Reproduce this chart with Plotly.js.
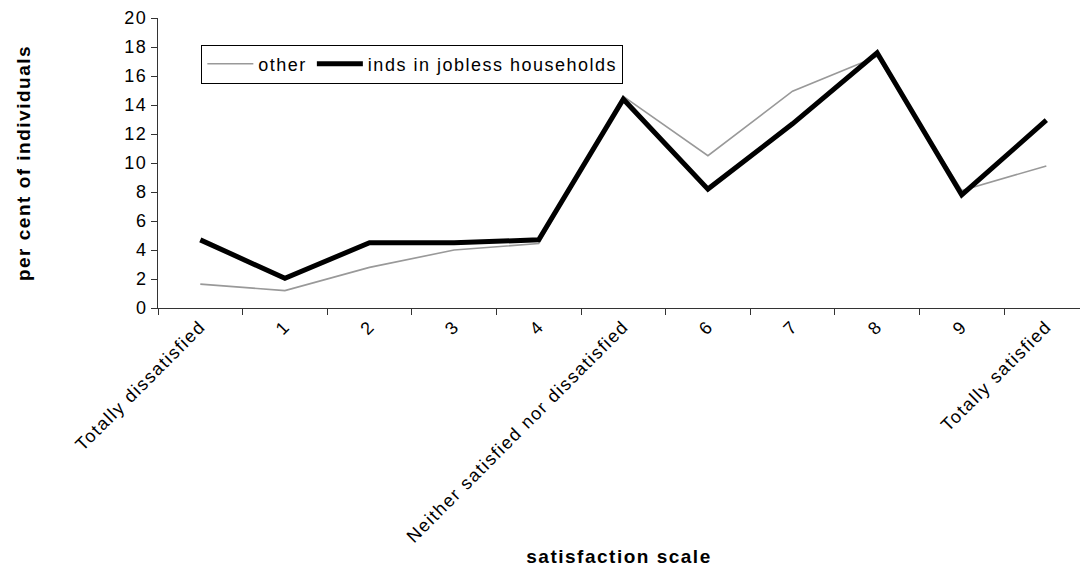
<!DOCTYPE html>
<html>
<head>
<meta charset="utf-8">
<script src="https://cdn.plot.ly/plotly-3.0.1.min.js"></script>
<style>
html,body{margin:0;padding:0;background:#fff;}
#chart{width:1080px;height:567px;}
svg text{letter-spacing:1.5px;}
</style>
</head>
<body>
<div id="chart"></div>
<script>
const categories = ["Totally dissatisfied","1","2","3","4","Neither satisfied nor dissatisfied","6","7","8","9","Totally satisfied"];
const otherValues = [1.65, 1.2, 2.8, 4.0, 4.45, 14.6, 10.5, 14.95, 17.35, 8.1, 9.8];
const joblessValues = [4.7, 2.05, 4.5, 4.5, 4.7, 14.4, 8.2, 12.7, 17.6, 7.8, 12.95];
const yTicks = [0,2,4,6,8,10,12,14,16,18,20];

const traces = [
  {x: categories, y: otherValues, type: "scatter", mode: "lines", name: "other",
   line: {color: "#999999", width: 1.6}},
  {x: categories, y: joblessValues, type: "scatter", mode: "lines", name: "inds in jobless households",
   line: {color: "#000000", width: 5}}
];

const layout = {
  width: 1080, height: 567,
  margin: {l: 158, r: 0, t: 18, b: 259},
  paper_bgcolor: "#fff", plot_bgcolor: "#fff",
  font: {family: "Liberation Sans, Arial, sans-serif", size: 18, color: "#000"},
  showlegend: true,
  legend: {orientation: "h", x: 0.047, y: 0.841, xanchor: "left", yanchor: "middle",
           bordercolor: "#000", borderwidth: 1, bgcolor: "#fff",
           font: {size: 18}, itemwidth: 46, tracegroupgap: 0},
  xaxis: {type: "category", range: [-0.5, 10.398], tickson: "boundaries",
          ticks: "outside", ticklen: 6, tickcolor: "#333", showline: true, linecolor: "#333",
          showgrid: false, zeroline: false, tickangle: -45, tickfont: {size: 18},
          title: {text: "satisfaction scale", font: {size: 19, weight: "bold"}, standoff: 2}},
  yaxis: {range: [0, 20], tickmode: "array", tickvals: yTicks, ticktext: yTicks.map(String),
          ticks: "outside", ticklen: 6, tickcolor: "#333", showline: true, linecolor: "#333",
          showgrid: false, zeroline: false, tickfont: {size: 18},
          title: {text: "per cent of individuals", font: {size: 19, weight: "bold"}, standoff: 88}}
};

Plotly.newPlot("chart", traces, layout, {displayModeBar: false, staticPlot: true});
</script>
</body>
</html>
